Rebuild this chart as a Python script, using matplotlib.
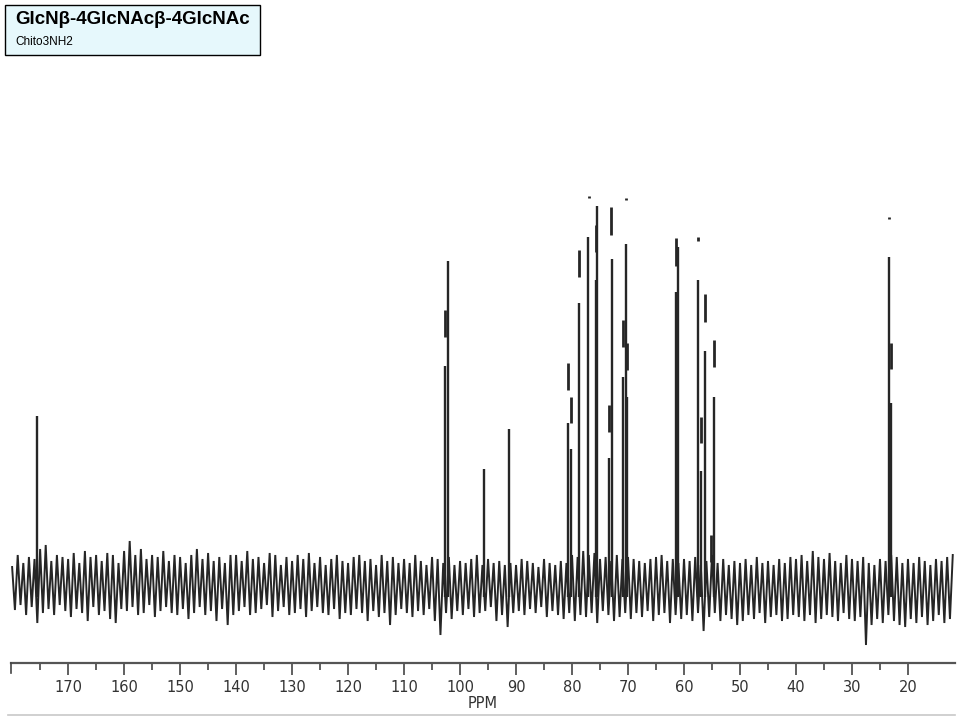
import numpy as np
import matplotlib.pyplot as plt
from matplotlib.patches import Rectangle

plt.rcParams["font.family"] = ["Liberation Sans", "DejaVu Sans"]

# ---- data -------------------------------------------------------------
TITLE = "GlcN\u03b2-4GlcNAc\u03b2-4GlcNAc"
SUBTITLE = "Chito3NH2"

PPM_LEFT, PPM_RIGHT = 180.2, 11.6
TICKS = [170, 160, 150, 140, 130, 120, 110, 100, 90, 80, 70, 60, 50, 40, 30, 20]

# peak lines: position (ppm) and height (intensity above baseline)
PEAK_PPM = [175.5, 102.7, 102.1, 95.7, 91.25, 80.7, 80.2, 78.75, 77.1, 75.7,
            75.5, 73.4, 72.9, 70.9, 70.4, 70.2, 61.4, 61.1, 57.5, 57.0,
            56.25, 54.6, 23.4, 23.0]
PEAK_H = [169, 219, 324, 116, 156, 162, 136, 282, 348, 305,
          379, 127, 326, 208, 341, 188, 293, 338, 305, 114,
          234, 188, 328, 182]

# short pen re-trace strokes beside the peaks: ppm, low, high
SEG_PPM = [102.75, 80.75, 80.25, 78.8, 75.75, 73.45, 72.95, 70.95, 70.25,
           61.45, 57.5, 57.0, 56.3, 54.6, 23.05, 55.2, 77.0, 70.4, 23.4]
SEG_LO = [248, 195, 162, 308, 333, 153, 350, 238, 215,
          319, 344, 142, 263, 218, 216, 23, 387, 385, 366]
SEG_HI = [275, 222, 188, 335, 360, 180, 378, 265, 242,
          347, 348, 168, 291, 245, 242, 50, 389, 387, 368]

# baseline noise: maxima at 180, 179, ... 12 ppm; minima at 179.5 ... 11.5 ppm
NOISE_HI = [
    18, 30, 22, 28, 26, 36, 40, 24, 30, 28,
    26, 32, 22, 34, 28, 30, 24, 32, 30, 22,
    34, 44, 30, 36, 26, 30, 28, 34, 24, 30,
    28, 22, 30, 36, 26, 32, 24, 28, 22, 30,
    30, 24, 34, 26, 28, 22, 32, 30, 20, 28,
    24, 30, 26, 32, 22, 28, 20, 26, 30, 24,
    22, 28, 30, 24, 26, 20, 30, 24, 28, 22,
    26, 22, 30, 24, 20, 28, 26, 22, 28, 20,
    24, 22, 26, 30, 20, 26, 22, 24, 20, 22,
    20, 26, 24, 22, 18, 26, 22, 20, 24, 22,
    30, 28, 34, 30, 32, 26, 28, 24, 30, 26,
    28, 26, 24, 22, 26, 28, 30, 24, 26, 22,
    26, 24, 28, 20, 24, 30, 22, 26, 20, 24,
    22, 26, 20, 28, 22, 24, 20, 26, 22, 28,
    26, 30, 24, 34, 28, 26, 32, 24, 22, 30,
    26, 24, 28, 22, 20, 26, 24, 30, 28, 22,
    26, 22, 28, 24, 20, 26, 24, 28, 30,
]
NOISE_LO = [
    -25, -20, -30, -22, -38, -28, -24, -30, -20, -26,
    -32, -24, -28, -36, -22, -30, -26, -34, -38, -24,
    -26, -22, -30, -28, -20, -32, -26, -22, -28, -30,
    -24, -34, -28, -22, -30, -26, -36, -24, -40, -30,
    -26, -22, -30, -28, -24, -20, -32, -26, -22, -30,
    -28, -24, -32, -26, -22, -28, -30, -24, -34, -28,
    -30, -24, -28, -36, -26, -32, -28, -40, -30, -24,
    -28, -32, -26, -30, -24, -36, -50, -28, -34, -26,
    -30, -24, -32, -28, -26, -22, -36, -30, -42, -28,
    -26, -30, -24, -28, -22, -32, -26, -30, -34, -28,
    -36, -30, -32, -28, -38, -26, -30, -36, -32, -28,
    -34, -28, -32, -26, -36, -30, -28, -38, -30, -34,
    -30, -36, -28, -46, -32, -28, -36, -30, -34, -40,
    -36, -30, -34, -28, -38, -32, -30, -36, -34, -30,
    -32, -36, -30, -38, -34, -30, -32, -36, -28, -34,
    -36, -32, -60, -40, -34, -38, -30, -36, -40, -42,
    -34, -38, -32, -40, -36, -30, -38, -34, -32,
]

# ---- figure -----------------------------------------------------------
INK = "#262626"
W, H = 960, 720
fig = plt.figure(figsize=(9.6, 7.2), dpi=100)

# spectrum axes (pixel box: x 11..955, y 195..663)
ax = fig.add_axes([11 / W, 1 - 663 / H, (955 - 11) / W, (663 - 195) / H])
ax.set_xlim(PPM_LEFT, PPM_RIGHT)
ax.set_ylim(-78, 390)

n = len(NOISE_HI)
hi_x = np.linspace(180.0, 180.0 - (n - 1), n)
lo_x = hi_x - 0.5
xs = np.empty(2 * n)
ys = np.empty(2 * n)
xs[0::2], xs[1::2] = hi_x, lo_x
ys[0::2], ys[1::2] = NOISE_HI, NOISE_LO
keep = (xs <= PPM_LEFT) & (xs >= PPM_RIGHT)
ax.plot(xs[keep], ys[keep], color=INK, lw=1.4, solid_joinstyle="miter")

ax.vlines(PEAK_PPM, -12, PEAK_H, color=INK, lw=1.7)
ax.vlines(SEG_PPM, SEG_LO, SEG_HI, color=INK, lw=2.0)

for side in ["top", "left", "right"]:
    ax.spines[side].set_visible(False)
ax.spines["bottom"].set_color("#555555")
ax.spines["bottom"].set_linewidth(1.6)
ax.set_yticks([])
ax.set_xticks(TICKS)
ax.set_xticks(np.array(TICKS) + 5, minor=True)
ax.tick_params(axis="x", which="major", direction="out", length=8.5, width=1.2,
               color="#444444", pad=3.5, labelsize=10.5, labelcolor="#333333")
ax.tick_params(axis="x", which="minor", direction="out", length=5, width=1.2,
               color="#444444")
for lab in ax.get_xticklabels():
    lab.set_family(["DejaVu Sans"])
ax.set_xlabel("PPM", fontsize=10.5, color="#333333", labelpad=1, family=["DejaVu Sans"])
ax.patch.set_alpha(0)

# left end tick of the scale
fig.add_artist(plt.Line2D([11 / W, 11 / W], [1 - 663 / H, 1 - 673 / H],
                          color="#444444", lw=1.2))

# light rule under the chart
fig.add_artist(plt.Line2D([8 / W, 955 / W], [1 - 715 / H, 1 - 715 / H],
                          color="#c8c8c8", lw=1.2))

# title box
fig.add_artist(Rectangle((5 / W, 1 - 55 / H), 255 / W, 50 / H,
                         transform=fig.transFigure, facecolor="#e6f8fc",
                         edgecolor="black", lw=1.0))
fig.text(15 / W, 1 - 20 / H, TITLE, fontsize=13.5, fontweight="bold",
         ha="left", va="center", color="black")
fig.text(15 / W, 1 - 42 / H, SUBTITLE, fontsize=8.5, ha="left", va="center",
         color="black")

fig.savefig("out.png", dpi=100)
